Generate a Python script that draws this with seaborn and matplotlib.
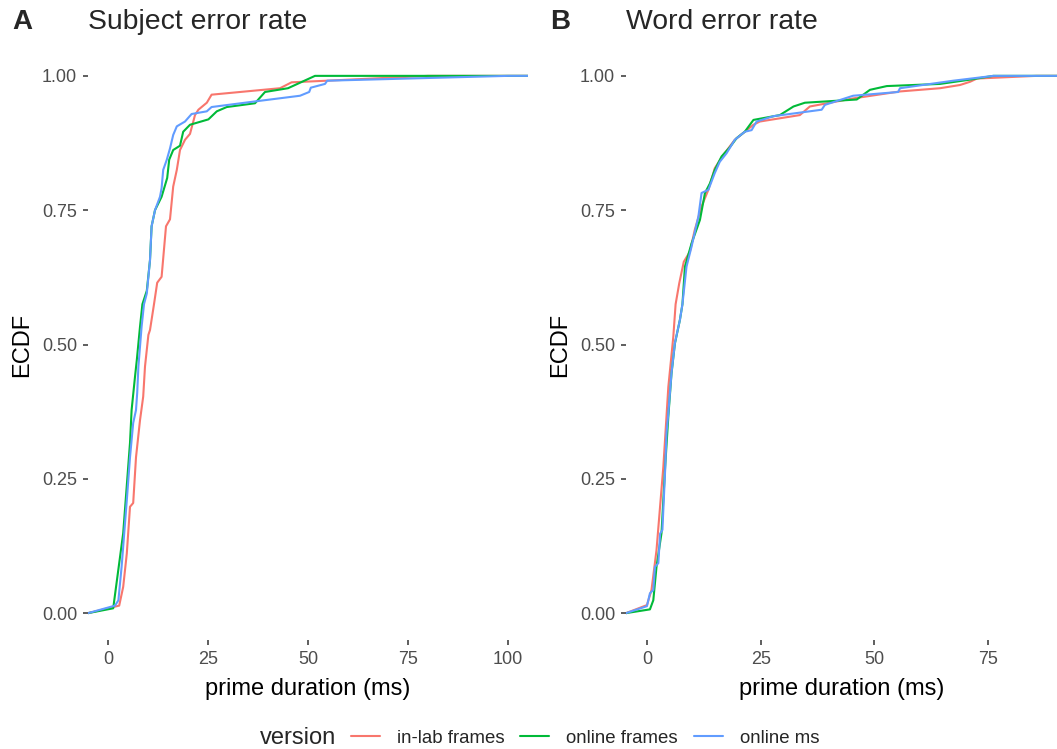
import numpy as np
import pandas as pd
import matplotlib
matplotlib.use("Agg")
import matplotlib.pyplot as plt
from matplotlib.lines import Line2D
import seaborn as sns

# ECDF curves of prime duration (ms), one set per panel and version
versions = ["in-lab frames", "online frames", "online ms"]
palette = {"in-lab frames": "#F8766D", "online frames": "#00BA38", "online ms": "#619CFF"}

# Panel A: subject error rate
subj_inlab_x = [2.8, 3.8, 4.7, 5.5, 6.3, 7.0, 8.0, 8.8, 9.25, 10.1, 10.5, 11.5, 12.3, 13.4, 14.5,
                15.5, 16.3, 17.2, 18.0, 19.25, 20.5, 21.75, 22.6, 24.7, 25.9, 43.0, 45.9, 54.7, 80.0]
subj_inlab_y = [0.014, 0.049, 0.111, 0.198, 0.205, 0.29, 0.359, 0.403, 0.459, 0.518, 0.527, 0.575,
                0.615, 0.626, 0.72, 0.733, 0.794, 0.825, 0.862, 0.881, 0.892, 0.927, 0.937, 0.95,
                0.965, 0.977, 0.988, 0.991, 1.0]
subj_onfr_x = [1.3, 3.8, 5.5, 5.9, 6.75, 7.2, 8.0, 8.6, 9.7, 10.5, 10.9, 11.75, 13.4, 14.8, 15.3,
               16.3, 18.0, 18.8, 20.5, 25.1, 27.2, 29.7, 36.75, 39.25, 45.0, 51.75]
subj_onfr_y = [0.009, 0.149, 0.317, 0.378, 0.44, 0.471, 0.533, 0.575, 0.60, 0.657, 0.72, 0.75,
               0.775, 0.81, 0.844, 0.862, 0.87, 0.896, 0.909, 0.919, 0.934, 0.942, 0.949, 0.97,
               0.977, 1.0]
subj_onms_x = [1.75, 2.6, 3.4, 4.7, 5.5, 6.3, 7.0, 7.3, 7.6, 8.4, 9.0, 9.7, 10.5, 10.9, 11.75, 13.0,
               13.4, 13.8, 14.7, 15.5, 16.3, 17.2, 19.25, 20.9, 24.7, 25.9, 36.3, 48.0, 50.3, 50.7,
               54.25, 54.8, 100.0]
subj_onms_y = [0.014, 0.024, 0.086, 0.21, 0.29, 0.354, 0.378, 0.41, 0.459, 0.533, 0.575, 0.595,
               0.657, 0.72, 0.75, 0.775, 0.791, 0.825, 0.844, 0.865, 0.89, 0.906, 0.915, 0.929,
               0.934, 0.942, 0.952, 0.963, 0.97, 0.978, 0.985, 0.991, 1.0]

# Panel B: word error rate
word_inlab_x = [0.0, 1.0, 2.1, 3.6, 4.7, 5.8, 6.3, 7.1, 8.1, 9.45, 10.5, 12.0, 13.5, 14.9, 16.8,
                19.3, 21.5, 23.4, 24.8, 33.6, 35.8, 45.3, 55.6, 64.4, 68.8, 71.0, 72.5, 85.6]
word_inlab_y = [0.015, 0.043, 0.117, 0.272, 0.421, 0.515, 0.575, 0.614, 0.654, 0.673, 0.713, 0.757,
                0.788, 0.828, 0.853, 0.881, 0.896, 0.909, 0.915, 0.927, 0.943, 0.958, 0.971, 0.977,
                0.983, 0.989, 0.995, 1.0]
word_onfr_x = [0.66, 1.4, 2.1, 3.2, 4.0, 4.7, 5.4, 6.15, 7.25, 7.8, 8.35, 9.8, 11.65, 12.75, 13.85,
               14.9, 16.4, 18.2, 19.7, 21.5, 23.4, 29.2, 32.2, 34.7, 46.1, 49.0, 52.7, 64.4, 71.0,
               76.1]
word_onfr_y = [0.007, 0.024, 0.086, 0.149, 0.272, 0.366, 0.446, 0.502, 0.546, 0.575, 0.645, 0.688,
               0.732, 0.782, 0.80, 0.825, 0.85, 0.867, 0.884, 0.896, 0.918, 0.927, 0.943, 0.95,
               0.956, 0.974, 0.981, 0.985, 0.993, 1.0]
word_onms_x = [0.0, 0.66, 1.4, 1.76, 2.5, 2.9, 3.4, 4.0, 4.3, 4.7, 5.4, 6.15, 7.25, 7.8, 8.7, 9.8,
               11.3, 12.0, 13.5, 14.9, 16.0, 17.5, 19.3, 21.5, 23.0, 24.1, 27.8, 38.4, 39.1, 45.3,
               55.2, 55.6, 67.3, 76.1]
word_onms_y = [0.013, 0.037, 0.043, 0.086, 0.093, 0.148, 0.155, 0.266, 0.335, 0.372, 0.447, 0.503,
               0.546, 0.575, 0.645, 0.682, 0.738, 0.782, 0.788, 0.819, 0.84, 0.856, 0.881, 0.896,
               0.899, 0.915, 0.925, 0.937, 0.946, 0.963, 0.97, 0.977, 0.991, 1.0]

y_ticks = [0.0, 0.25, 0.50, 0.75, 1.0]
y_ticklabels = ["0.00", "0.25", "0.50", "0.75", "1.00"]

panels = [
    dict(tag="A", title="Subject error rate", xlim=(-5.0, 105.0), xticks=[0, 25, 50, 75, 100],
         series={"in-lab frames": (subj_inlab_x, subj_inlab_y),
                 "online frames": (subj_onfr_x, subj_onfr_y),
                 "online ms": (subj_onms_x, subj_onms_y)}),
    dict(tag="B", title="Word error rate", xlim=(-4.6, 90.1), xticks=[0, 25, 50, 75],
         series={"in-lab frames": (word_inlab_x, word_inlab_y),
                 "online frames": (word_onfr_x, word_onfr_y),
                 "online ms": (word_onms_x, word_onms_y)}),
]

sns.set_theme(style="white")
plt.rcParams["font.family"] = ["Liberation Sans", "DejaVu Sans"]

W, H = 1057, 749
fig = plt.figure(figsize=(W / 100, H / 100), dpi=100)

axes_px = [(88, 528), (626, 1057)]
top_px, bot_px = 49, 640

for (left, right), p in zip(axes_px, panels):
    ax = fig.add_axes([left / W, 1 - bot_px / H, (right - left) / W, (bot_px - top_px) / H])
    ax.set_xlim(*p["xlim"])
    ax.set_ylim(-0.05, 1.05)
    lo, hi = ax.get_xlim()
    frames = []
    for v in versions:
        xs, ys = p["series"][v]
        # pad each ECDF to the panel edges at 0 and 1
        frames.append(pd.DataFrame({"duration": [lo] + list(xs) + [hi],
                                    "ecdf": [0.0] + list(ys) + [1.0],
                                    "version": v}))
    df = pd.concat(frames, ignore_index=True)
    sns.lineplot(data=df, x="duration", y="ecdf", hue="version", hue_order=versions,
                 palette=palette, sort=False, estimator=None, linewidth=1.5, ax=ax,
                 legend=False)
    ax.set_xlim(lo, hi)
    for s in ax.spines.values():
        s.set_visible(False)
    ax.set_xticks(p["xticks"])
    ax.set_yticks(y_ticks)
    ax.set_yticklabels(y_ticklabels)
    ax.tick_params(axis="both", which="major", direction="out", length=3.8, width=1.1,
                   color="#333333", labelcolor="#4D4D4D", labelsize=13, pad=4,
                   bottom=True, left=True)
    ax.set_xlabel("prime duration (ms)", fontsize=17, color="black", labelpad=7)
    ax.set_ylabel("ECDF", fontsize=17, color="black", labelpad=6)
    ax.grid(False)
    fig.text((left - 76) / W, 1 - 22 / H, p["tag"], fontsize=20, fontweight="bold",
             ha="left", va="center")
    fig.text(left / W, 1 - 22 / H, p["title"], fontsize=20.4, ha="left", va="center")

# bottom legend with the title on the left
legend_y = 1 - 738 / H
fig.text(260 / W, legend_y, "version", fontsize=17, ha="left", va="center")
handles = [Line2D([0], [0], color=palette[v], lw=1.5) for v in versions]
fig.legend(handles, versions, loc="center left", bbox_to_anchor=(351 / W, legend_y),
           ncol=3, frameon=False, fontsize=13.4, handlelength=1.56, handletextpad=0.9,
           columnspacing=0.86, borderaxespad=0, borderpad=0)

fig.savefig("out.png", dpi=100, facecolor="white")
